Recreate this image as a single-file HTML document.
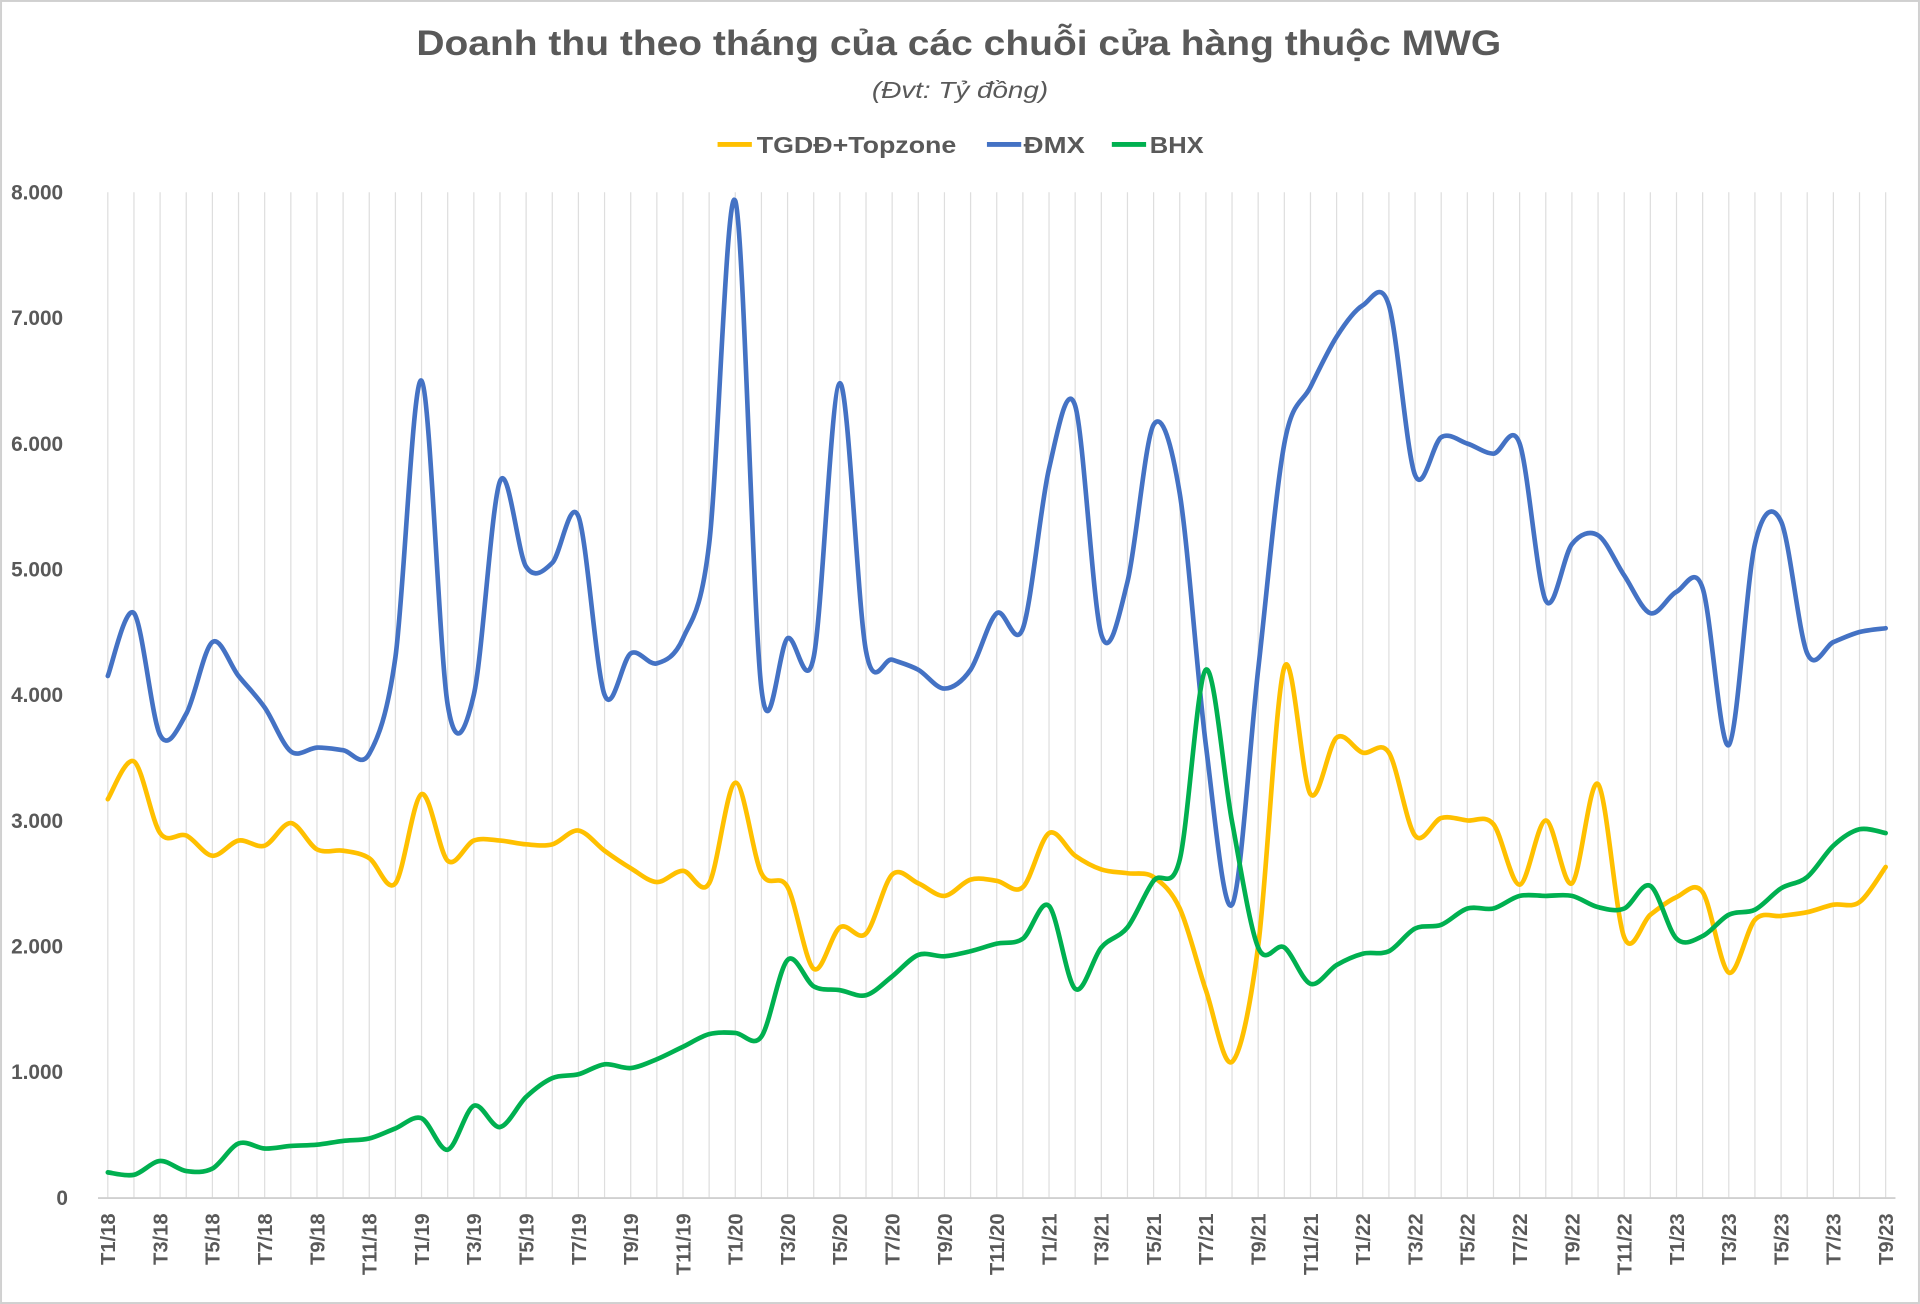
<!DOCTYPE html>
<html><head><meta charset="utf-8"><style>
html,body{margin:0;padding:0;background:#fff;}
svg{display:block;}
text{font-family:"Liberation Sans",sans-serif;fill:#595959;font-weight:bold;}
</style></head><body>
<svg id="c" width="1920" height="1304" viewBox="0 0 1568 1065" xmlns="http://www.w3.org/2000/svg">
<rect x="0.8" y="0.8" width="1566.4" height="1063.4" fill="#fff" stroke="#d0d0d0" stroke-width="1.6"/>
<text x="340" y="45" font-size="29" textLength="886" lengthAdjust="spacingAndGlyphs">Doanh thu theo tháng của các chuỗi cửa hàng thuộc MWG</text>
<text x="712" y="80" font-size="19" font-style="italic" style="font-weight:normal" textLength="144" lengthAdjust="spacingAndGlyphs">(Đvt: Tỷ đồng)</text>
<line x1="586" y1="118" x2="614" y2="118" stroke="#FFC000" stroke-width="4"/>
<text x="618" y="125" font-size="19" textLength="163" lengthAdjust="spacingAndGlyphs">TGDĐ+Topzone</text>
<line x1="806" y1="118" x2="834" y2="118" stroke="#4472C4" stroke-width="4"/>
<text x="836" y="125" font-size="19" textLength="50" lengthAdjust="spacingAndGlyphs">ĐMX</text>
<line x1="908" y1="118" x2="936" y2="118" stroke="#00B050" stroke-width="4"/>
<text x="939" y="125" font-size="19" textLength="44" lengthAdjust="spacingAndGlyphs">BHX</text>
<g id="grid"></g>
<g id="series"></g>
</svg>
<script>
var NS="http://www.w3.org/2000/svg",svg=document.getElementById('c');
var x0=88,dx=(1540-88)/68,y0=978,ky=(978-157)/8000;
function X(i){return x0+dx*i}function Y(v){return y0-v*ky}
function el(t,a,p,txt){var e=document.createElementNS(NS,t);for(var k in a)e.setAttribute(k,a[k]);if(txt!=null)e.textContent=txt;(p||svg).appendChild(e);return e}
var g=document.getElementById('grid');
for(var i=0;i<69;i++)el('line',{x1:X(i),x2:X(i),y1:157,y2:978,stroke:'#dedede','stroke-width':1},g);
el('line',{x1:80,x2:1548,y1:978.5,y2:978.5,stroke:'#d0d0d0','stroke-width':1.5},g);
var yl=['0','1.000','2.000','3.000','4.000','5.000','6.000','7.000','8.000'];
for(var j=0;j<=8;j++){el('text',{x:j==0?46:9,y:Y(j*1000)+6,'font-size':17},g,yl[j]);}
for(var i=0;i<69;i+=2){var m=(i%12)+1,yr=18+Math.floor(i/12);
 el('text',{x:0,y:0,'font-size':16.5,'text-anchor':'end',transform:'translate('+(X(i)+6)+',991) rotate(-90)'},g,'T'+m+'/'+yr);}
var dmx=[4150,4650,3680,3850,4420,4150,3900,3550,3580,3560,3530,4300,6500,3920,4000,5700,5020,5050,5420,4000,4330,4250,4450,5200,7930,4050,4450,4300,6480,4350,4280,4200,4050,4200,4650,4530,5800,6300,4480,4900,6150,5600,3600,2330,4200,6000,6450,6850,7100,7100,5750,6050,6000,5920,6000,4750,5200,5270,4950,4650,4820,4850,3600,5200,5380,4330,4420,4500,4530];
var tg=[3170,3470,2900,2880,2720,2840,2800,2980,2770,2760,2700,2500,3210,2680,2840,2840,2810,2810,2920,2760,2620,2510,2600,2500,3300,2580,2470,1820,2150,2100,2570,2500,2400,2530,2520,2470,2900,2720,2610,2580,2550,2300,1650,1080,2000,4220,3210,3660,3540,3540,2880,3020,3000,2970,2490,3000,2500,3290,2070,2250,2390,2430,1790,2210,2240,2270,2330,2350,2630];
var bhx=[200,180,290,210,230,430,390,410,420,450,470,550,630,380,730,560,800,950,980,1060,1030,1100,1200,1300,1310,1280,1890,1680,1650,1610,1760,1930,1920,1960,2020,2060,2320,1660,1990,2150,2520,2690,4200,2990,1990,1990,1700,1850,1940,1960,2140,2170,2300,2300,2400,2400,2400,2310,2300,2480,2060,2080,2250,2290,2460,2550,2800,2930,2900];
function path(d){var p=d.map(function(v,i){return[X(i),Y(v)]});var s='M'+p[0][0].toFixed(1)+' '+p[0][1].toFixed(1);var t=0.16;
for(var i=0;i<p.length-1;i++){var a=p[Math.max(i-1,0)],b=p[i],c=p[i+1],e=p[Math.min(i+2,p.length-1)];
var c1=[b[0]+(c[0]-a[0])*t,b[1]+(c[1]-a[1])*t],c2=[c[0]-(e[0]-b[0])*t,c[1]-(e[1]-b[1])*t];
s+=' C'+c1[0].toFixed(1)+' '+c1[1].toFixed(1)+' '+c2[0].toFixed(1)+' '+c2[1].toFixed(1)+' '+c[0].toFixed(1)+' '+c[1].toFixed(1);}return s}
var S=document.getElementById('series');
el('path',{d:path(dmx),fill:'none',stroke:'#4472C4','stroke-width':3.8,'stroke-linejoin':'round','stroke-linecap':'round'},S);
el('path',{d:path(tg),fill:'none',stroke:'#FFC000','stroke-width':3.8,'stroke-linejoin':'round','stroke-linecap':'round'},S);
el('path',{d:path(bhx),fill:'none',stroke:'#00B050','stroke-width':3.8,'stroke-linejoin':'round','stroke-linecap':'round'},S);
</script>
</body></html>
